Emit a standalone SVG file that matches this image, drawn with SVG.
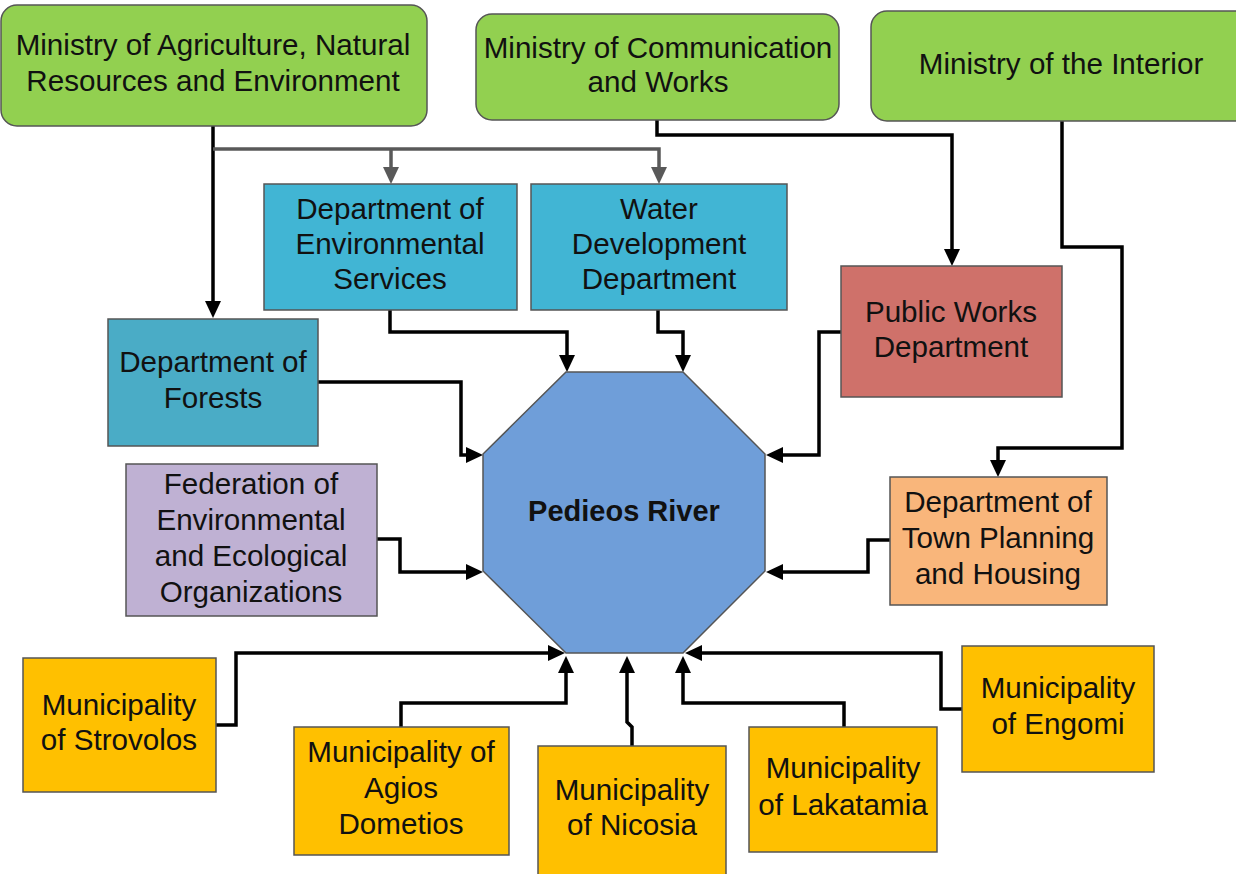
<svg xmlns="http://www.w3.org/2000/svg" width="1236" height="874" viewBox="0 0 1236 874">
<style>
.t{font-family:"Liberation Sans",Arial,sans-serif;font-size:29.6px;fill:#111;text-anchor:middle}
.b{font-weight:bold;font-size:29px}
.box{stroke:#555;stroke-width:1.5}
.min{fill:#92d050}
.lb{fill:#41b5d4}
.fo{fill:#4aacc6}
.pw{fill:#cf716a}
.tp{fill:#f9b67b}
.fe{fill:#bfb1d3}
.mu{fill:#ffc000}
.c{fill:none;stroke:#000;stroke-width:3.5;stroke-linejoin:miter}
.g{fill:none;stroke:#595959;stroke-width:3.5}
</style>
<defs>
<marker id="a" viewBox="0 0 17 16" refX="1" refY="8" markerWidth="17" markerHeight="16" markerUnits="userSpaceOnUse" orient="auto"><path d="M0,0 L17,8 L0,16 z" fill="#000"/></marker>
<marker id="ag" viewBox="0 0 17 16" refX="1" refY="8" markerWidth="17" markerHeight="16" markerUnits="userSpaceOnUse" orient="auto"><path d="M0,0 L17,8 L0,16 z" fill="#595959"/></marker>
</defs>
<rect width="1236" height="874" fill="#fff"/>

<g id="connectors">
<path class="c" d="M213,126 V302" marker-end="url(#a)"/>
<path class="g" d="M213,149 H659 V168" marker-end="url(#ag)"/>
<path class="g" d="M391,149 V168" marker-end="url(#ag)"/>
<path class="c" d="M657,120 V135 H952 V250" marker-end="url(#a)"/>
<path class="c" d="M1062,121 V247 H1122 V448 H998 V461" marker-end="url(#a)"/>
<path class="c" d="M390,310 V332 H567 V356" marker-end="url(#a)"/>
<path class="c" d="M658,310 V332 H683 V356" marker-end="url(#a)"/>
<path class="c" d="M318,382 H461 V455 H467" marker-end="url(#a)"/>
<path class="c" d="M377,539 H400 V572 H467" marker-end="url(#a)"/>
<path class="c" d="M841,332 H819 V455 H782" marker-end="url(#a)"/>
<path class="c" d="M890,540 H868 V572 H782" marker-end="url(#a)"/>
<path class="c" d="M216,725 H236 V653 H549" marker-end="url(#a)"/>
<path class="c" d="M401,727 V703 H566 V672" marker-end="url(#a)"/>
<path class="c" d="M632,746 V727 L627,722 V672" marker-end="url(#a)"/>
<path class="c" d="M844,727 V703 H683 V672" marker-end="url(#a)"/>
<path class="c" d="M962,709 H941 V653 H701" marker-end="url(#a)"/>
</g>

<g id="ministry-agriculture">
<rect class="box min" x="1" y="5" width="426" height="121" rx="16"/>
<text class="t" x="213" y="55">Ministry of Agriculture, Natural</text>
<text class="t" x="213" y="91">Resources and Environment</text>
</g>
<g id="ministry-communication">
<rect class="box min" x="476" y="14" width="363" height="106" rx="16"/>
<text class="t" x="658" y="58">Ministry of Communication</text>
<text class="t" x="658" y="92">and Works</text>
</g>
<g id="ministry-interior">
<rect class="box min" x="871" y="11" width="380" height="110" rx="16"/>
<text class="t" x="1061" y="74">Ministry of the Interior</text>
</g>
<g id="dept-env-services">
<rect class="box lb" x="264" y="184" width="253" height="126"/>
<text class="t" x="390" y="219">Department of</text>
<text class="t" x="390" y="254">Environmental</text>
<text class="t" x="390" y="289">Services</text>
</g>
<g id="water-dev">
<rect class="box lb" x="531" y="184" width="256" height="126"/>
<text class="t" x="659" y="219">Water</text>
<text class="t" x="659" y="254">Development</text>
<text class="t" x="659" y="289">Department</text>
</g>
<g id="public-works">
<rect class="box pw" x="841" y="266" width="221" height="131"/>
<text class="t" x="951" y="322">Public Works</text>
<text class="t" x="951" y="357">Department</text>
</g>
<g id="dept-forests">
<rect class="box fo" x="108" y="319" width="210" height="127"/>
<text class="t" x="213" y="372">Department of</text>
<text class="t" x="213" y="408">Forests</text>
</g>
<g id="federation">
<rect class="box fe" x="126" y="464" width="251" height="152"/>
<text class="t" x="251" y="494">Federation of</text>
<text class="t" x="251" y="530">Environmental</text>
<text class="t" x="251" y="566">and Ecological</text>
<text class="t" x="251" y="602">Organizations</text>
</g>
<g id="town-planning">
<rect class="box tp" x="890" y="477" width="217" height="128"/>
<text class="t" x="998" y="512">Department of</text>
<text class="t" x="998" y="548">Town Planning</text>
<text class="t" x="998" y="584">and Housing</text>
</g>
<g id="pedieos-river">
<polygon class="box" fill="#6f9ed9" points="566,372 683,372 765,454 765,571 683,653 566,653 483,571 483,454"/>
<text class="t b" x="624" y="521">Pedieos River</text>
</g>
<g id="strovolos">
<rect class="box mu" x="23" y="658" width="193" height="134"/>
<text class="t" x="119" y="715">Municipality</text>
<text class="t" x="119" y="750">of Strovolos</text>
</g>
<g id="agios-dometios">
<rect class="box mu" x="294" y="727" width="215" height="128"/>
<text class="t" x="401" y="762">Municipality of</text>
<text class="t" x="401" y="798">Agios</text>
<text class="t" x="401" y="834">Dometios</text>
</g>
<g id="nicosia">
<rect class="box mu" x="538" y="746" width="188" height="140"/>
<text class="t" x="632" y="800">Municipality</text>
<text class="t" x="632" y="835">of Nicosia</text>
</g>
<g id="lakatamia">
<rect class="box mu" x="749" y="727" width="188" height="125"/>
<text class="t" x="843" y="778">Municipality</text>
<text class="t" x="843" y="815">of Lakatamia</text>
</g>
<g id="engomi">
<rect class="box mu" x="962" y="646" width="192" height="126"/>
<text class="t" x="1058" y="698">Municipality</text>
<text class="t" x="1058" y="734">of Engomi</text>
</g>
</svg>
